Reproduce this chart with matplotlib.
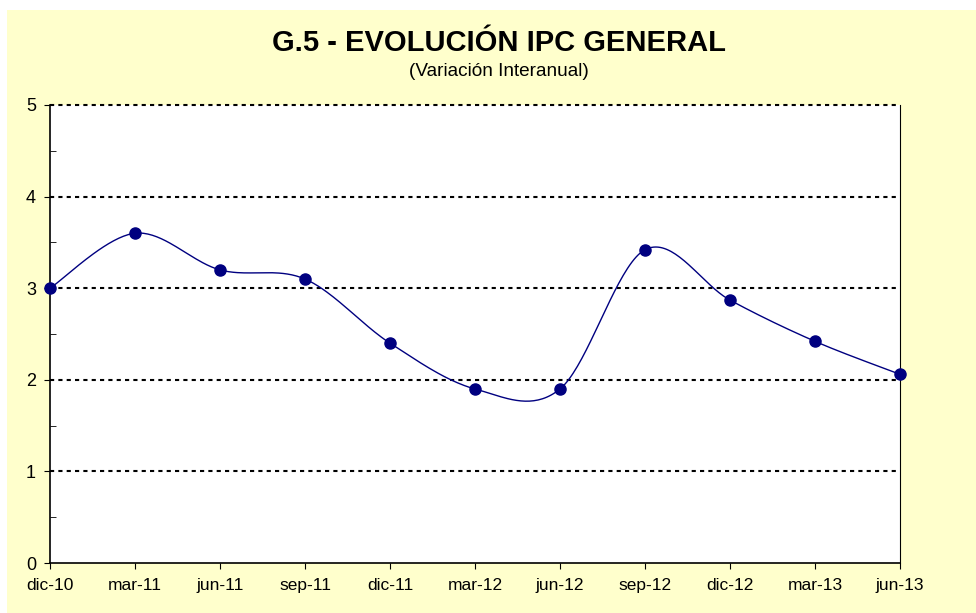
import numpy as np
import matplotlib.pyplot as plt
from matplotlib.patches import Rectangle

periods = ["dic-10", "mar-11", "jun-11", "sep-11", "dic-11", "mar-12",
           "jun-12", "sep-12", "dic-12", "mar-13", "jun-13"]
ipc = [3.0, 3.6, 3.2, 3.1, 2.4, 1.9, 1.9, 3.42, 2.87, 2.42, 2.06]


def smooth(x, y, n=40):
    # Excel-style smoothed line: cubic Bezier with cardinal-spline controls
    x = np.asarray(x, float)
    y = np.asarray(y, float)
    px = np.concatenate([[x[0]], x, [x[-1]]])
    py = np.concatenate([[y[0]], y, [y[-1]]])
    xs, ys = [], []
    t = np.linspace(0, 1, n)
    for i in range(1, len(px) - 2):
        p0 = np.array([px[i], py[i]])
        p3 = np.array([px[i + 1], py[i + 1]])
        c1 = p0 + (np.array([px[i + 1], py[i + 1]]) - np.array([px[i - 1], py[i - 1]])) / 6
        c2 = p3 - (np.array([px[i + 2], py[i + 2]]) - np.array([px[i], py[i]])) / 6
        b = ((1 - t) ** 3)[:, None] * p0 + (3 * (1 - t) ** 2 * t)[:, None] * c1 \
            + (3 * (1 - t) * t ** 2)[:, None] * c2 + (t ** 3)[:, None] * p3
        xs.extend(b[:, 0])
        ys.extend(b[:, 1])
    return np.array(xs), np.array(ys)


plt.rcParams["font.family"] = "Liberation Sans"

fig = plt.figure(figsize=(9.76, 6.13), dpi=100)
fig.patch.set_facecolor("white")
fig.patches.append(Rectangle((7 / 976, 0), 1, 1 - 10 / 613, transform=fig.transFigure,
                             facecolor="#FFFFCC", edgecolor="none", zorder=-10))

ax = fig.add_axes([50 / 976, 1 - 563 / 613, 850 / 976, 458 / 613])
ax.set_facecolor("white")

x = np.arange(len(periods))
sx, sy = smooth(x, ipc)
ax.plot(sx, sy, color="#000080", lw=1.0, zorder=3)
ax.plot(x, ipc, "o", color="#000080", ms=8, zorder=4, clip_on=False)

ax.set_xlim(0, len(periods) - 1)
ax.set_ylim(0, 5)
ax.set_xticks(x)
ax.set_xticklabels(periods)
ax.set_yticks(range(6))
ax.set_yticks(np.arange(0.5, 5, 1.0), minor=True)
ax.tick_params(axis="y", which="major", direction="out", length=4, labelsize=13, pad=6)
ax.tick_params(axis="y", which="minor", direction="in", length=4)
ax.tick_params(axis="x", direction="out", length=4, labelsize=12.5, pad=7)

for v in range(1, 6):
    ax.axhline(v, color="black", lw=1.5, ls=(0, (2, 2)), zorder=1, clip_on=False)

for s in ["left", "bottom"]:
    ax.spines[s].set_linewidth(1.2)
ax.spines["top"].set_visible(False)
ax.spines["right"].set_linewidth(0.8)

fig.text(0.511, 1 - 43 / 613, "G.5 - EVOLUCIÓN IPC GENERAL", ha="center", va="center",
         fontsize=21, fontweight="bold")
fig.text(0.511, 1 - 72 / 613, "(Variación Interanual)", ha="center", va="center",
         fontsize=13.7)

fig.savefig("out.png", dpi=100, facecolor=fig.get_facecolor())
